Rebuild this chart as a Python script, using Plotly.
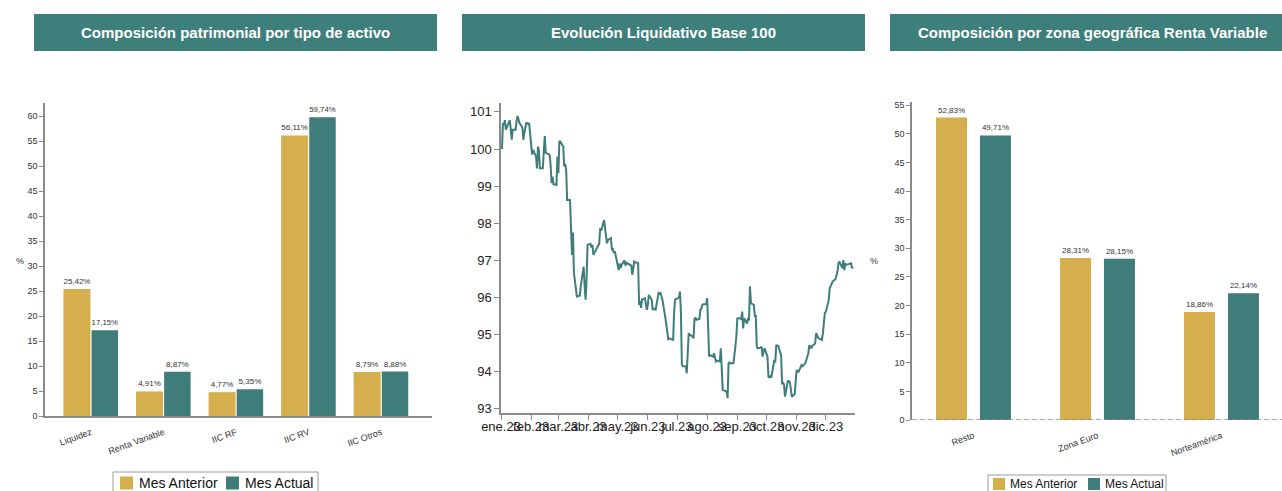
import plotly.graph_objects as go

# ---- data -------------------------------------------------------------
asset_types = ["Liquidez", "Renta Variable", "IIC RF", "IIC RV", "IIC Otros"]
asset_prev = [25.42, 4.91, 4.77, 56.11, 8.79]
asset_curr = [17.15, 8.87, 5.35, 59.74, 8.88]

zones = ["Resto", "Zona Euro", "Norteamérica"]
zone_prev = [52.83, 28.31, 18.86]
zone_curr = [49.71, 28.15, 22.14]

series_names = ["Mes Anterior", "Mes Actual"]

month_ticks = ["2023-01-01", "2023-02-01", "2023-03-01", "2023-04-01", "2023-05-01", "2023-06-01",
               "2023-07-01", "2023-08-01", "2023-09-01", "2023-10-01", "2023-11-01", "2023-12-01"]
month_labels = ["ene.23", "feb.23", "mar.23", "abr.23", "may.23", "jun.23",
                "jul.23", "ago.23", "sep.23", "oct.23", "nov.23", "dic.23"]

nav_dates = [
    "2023-01-02", "2023-01-03", "2023-01-04", "2023-01-05", "2023-01-06", "2023-01-09", "2023-01-10",
    "2023-01-11", "2023-01-12", "2023-01-13", "2023-01-16", "2023-01-17", "2023-01-18", "2023-01-19",
    "2023-01-20", "2023-01-23", "2023-01-24", "2023-01-25", "2023-01-26", "2023-01-27", "2023-01-30",
    "2023-01-31", "2023-02-01", "2023-02-02", "2023-02-03", "2023-02-06", "2023-02-07", "2023-02-08",
    "2023-02-09", "2023-02-10", "2023-02-13", "2023-02-14", "2023-02-15", "2023-02-16", "2023-02-17",
    "2023-02-20", "2023-02-21", "2023-02-22", "2023-02-23", "2023-02-24", "2023-02-27", "2023-02-28",
    "2023-03-01", "2023-03-02", "2023-03-03", "2023-03-06", "2023-03-07", "2023-03-08", "2023-03-09",
    "2023-03-10", "2023-03-13", "2023-03-14", "2023-03-15", "2023-03-16", "2023-03-17", "2023-03-20",
    "2023-03-21", "2023-03-22", "2023-03-23", "2023-03-24", "2023-03-27", "2023-03-28", "2023-03-29",
    "2023-03-30", "2023-03-31", "2023-04-03", "2023-04-04", "2023-04-05", "2023-04-06", "2023-04-11",
    "2023-04-12", "2023-04-13", "2023-04-14", "2023-04-17", "2023-04-18", "2023-04-19", "2023-04-20",
    "2023-04-21", "2023-04-24", "2023-04-25", "2023-04-26", "2023-04-27", "2023-04-28", "2023-05-02",
    "2023-05-03", "2023-05-04", "2023-05-05", "2023-05-08", "2023-05-09", "2023-05-10", "2023-05-11",
    "2023-05-12", "2023-05-15", "2023-05-16", "2023-05-17", "2023-05-18", "2023-05-19", "2023-05-22",
    "2023-05-23", "2023-05-24", "2023-05-25", "2023-05-26", "2023-05-29", "2023-05-30", "2023-05-31",
    "2023-06-01", "2023-06-02", "2023-06-05", "2023-06-06", "2023-06-07", "2023-06-08", "2023-06-09",
    "2023-06-12", "2023-06-13", "2023-06-14", "2023-06-15", "2023-06-16", "2023-06-19", "2023-06-20",
    "2023-06-21", "2023-06-22", "2023-06-23", "2023-06-26", "2023-06-27", "2023-06-28", "2023-06-29",
    "2023-06-30", "2023-07-03", "2023-07-04", "2023-07-05", "2023-07-06", "2023-07-07", "2023-07-10",
    "2023-07-11", "2023-07-12", "2023-07-13", "2023-07-14", "2023-07-17", "2023-07-18", "2023-07-19",
    "2023-07-20", "2023-07-21", "2023-07-24", "2023-07-25", "2023-07-26", "2023-07-27", "2023-07-28",
    "2023-07-31", "2023-08-01", "2023-08-02", "2023-08-03", "2023-08-04", "2023-08-07", "2023-08-08",
    "2023-08-09", "2023-08-10", "2023-08-11", "2023-08-14", "2023-08-15", "2023-08-16", "2023-08-17",
    "2023-08-18", "2023-08-21", "2023-08-22", "2023-08-23", "2023-08-24", "2023-08-25", "2023-08-28",
    "2023-08-29", "2023-08-30", "2023-08-31", "2023-09-01", "2023-09-04", "2023-09-05", "2023-09-06",
    "2023-09-07", "2023-09-08", "2023-09-11", "2023-09-12", "2023-09-13", "2023-09-14", "2023-09-15",
    "2023-09-18", "2023-09-19", "2023-09-20", "2023-09-21", "2023-09-22", "2023-09-25", "2023-09-26",
    "2023-09-27", "2023-09-28", "2023-09-29", "2023-10-02", "2023-10-03", "2023-10-04", "2023-10-05",
    "2023-10-06", "2023-10-09", "2023-10-10", "2023-10-11", "2023-10-12", "2023-10-13", "2023-10-16",
    "2023-10-17", "2023-10-18", "2023-10-19", "2023-10-20", "2023-10-23", "2023-10-24", "2023-10-25",
    "2023-10-26", "2023-10-27", "2023-10-30", "2023-10-31", "2023-11-01", "2023-11-02", "2023-11-03",
    "2023-11-06", "2023-11-07", "2023-11-08", "2023-11-09", "2023-11-10", "2023-11-13", "2023-11-14",
    "2023-11-15", "2023-11-16", "2023-11-17", "2023-11-20", "2023-11-21", "2023-11-22", "2023-11-23",
    "2023-11-24", "2023-11-27", "2023-11-28", "2023-11-29", "2023-11-30", "2023-12-01", "2023-12-04",
    "2023-12-05", "2023-12-06", "2023-12-07", "2023-12-08", "2023-12-11", "2023-12-12", "2023-12-13",
    "2023-12-14", "2023-12-15", "2023-12-18", "2023-12-19", "2023-12-20", "2023-12-21", "2023-12-22",
    "2023-12-27", "2023-12-28", "2023-12-29",
]
nav_values = [
    100.00, 100.70, 100.65, 100.78, 100.52, 100.74, 100.78,
    100.55, 100.25, 100.52, 100.52, 100.74, 100.89, 100.80,
    100.70, 100.58, 100.25, 100.43, 100.55, 100.70, 100.68,
    100.34, 100.07, 99.85, 99.98, 99.80, 99.48, 100.07,
    99.95, 99.48, 99.48, 100.16, 100.35, 99.90, 99.88,
    99.84, 99.57, 99.08, 99.26, 99.05, 99.03, 99.80,
    99.35, 100.20, 100.20, 100.07, 99.53, 99.60, 99.44,
    98.63, 98.63, 97.78, 97.15, 97.75, 96.66, 96.03,
    96.03, 96.03, 96.05, 96.30, 96.83, 96.30, 95.94,
    96.50, 97.42, 97.45, 97.35, 97.42, 97.15, 97.40,
    97.45, 97.87, 97.80, 98.09, 97.80, 97.65, 97.46,
    97.55, 97.60, 97.28, 97.30, 97.20, 97.25, 96.74,
    96.92, 96.80, 96.88, 97.00, 96.86, 96.95, 96.92,
    96.90, 96.86, 96.61, 96.85, 96.97, 96.95, 96.93,
    95.80, 95.90, 95.72, 95.95, 95.98, 95.85, 95.67,
    95.80, 96.07, 95.94, 95.67, 95.70, 95.68, 95.67,
    96.12, 96.10, 96.12, 96.05, 95.94, 95.45, 95.20,
    94.95, 94.88, 94.90, 94.88, 94.86, 95.60, 95.94,
    95.96, 96.00, 96.16, 95.60, 94.19, 94.15, 94.15,
    93.96, 94.50, 95.04, 95.00, 94.95, 94.90, 95.44,
    95.45, 95.40, 95.42, 95.67, 95.70, 95.80, 95.82,
    95.82, 95.98, 95.20, 94.41, 94.45, 94.41, 94.50,
    94.35, 94.28, 94.30, 94.28, 94.63, 94.14, 93.51,
    93.50, 93.47, 93.29, 94.23, 94.25, 94.23, 94.23,
    94.41, 94.68, 94.95, 95.44, 95.45, 95.40, 95.62,
    95.17, 95.44, 95.30, 95.45, 95.38, 96.30, 95.85,
    95.80, 95.50, 95.50, 94.68, 94.63, 94.65, 94.68,
    94.41, 94.55, 94.63, 94.41, 93.87, 93.85, 93.88,
    93.85, 94.32, 94.25, 94.72, 94.70, 94.70, 94.45,
    93.69, 93.70, 93.66, 93.33, 93.75, 93.75, 93.72,
    93.54, 93.33, 93.40, 93.75, 94.05, 94.00, 94.00,
    94.18, 94.15, 94.18, 94.20, 94.23, 94.50, 94.72,
    94.68, 94.63, 94.70, 94.76, 95.04, 94.95, 94.92,
    94.90, 94.86, 95.04, 95.30, 95.58, 95.62, 95.93,
    96.25, 96.30, 96.34, 96.43, 96.50, 96.61, 96.70,
    96.92, 96.97, 96.79, 97.01, 96.74, 96.92, 96.88,
    96.92, 96.79, 96.83,
]

# ---- styling ----------------------------------------------------------
W, H = 1282, 491
GOLD = "#d5ae4e"
TEAL = "#3e7d79"
HEADER = "#3f7f7b"
AXIS = "#8a8a8a"
FONT = "Liberation Sans, Arial, sans-serif"


def px(x):
    return x / W


def py(y):
    return 1 - y / H


def pct(values):
    return [f"{v:.2f}%".replace(".", ",") for v in values]


fig = go.Figure()
bar_label_font = dict(size=8, color="#333333", family=FONT)

# Composición patrimonial por tipo de activo
fig.add_trace(go.Bar(
    x=asset_types, y=asset_prev, name=series_names[0], marker_color=GOLD, marker_line_width=0,
    width=0.372, offset=-0.38, text=pct(asset_prev), textposition="outside",
    textfont=bar_label_font, cliponaxis=False, xaxis="x", yaxis="y", showlegend=False,
))
fig.add_trace(go.Bar(
    x=asset_types, y=asset_curr, name=series_names[1], marker_color=TEAL, marker_line_width=0,
    width=0.365, offset=0.008, text=pct(asset_curr), textposition="outside",
    textfont=bar_label_font, cliponaxis=False, xaxis="x", yaxis="y", showlegend=False,
))

# Evolución liquidativo base 100
fig.add_trace(go.Scatter(
    x=nav_dates, y=nav_values, mode="lines", line=dict(color=TEAL, width=2),
    showlegend=False, xaxis="x2", yaxis="y2",
))

# Composición por zona geográfica
fig.add_trace(go.Bar(
    x=zones, y=zone_prev, name=series_names[0], marker_color=GOLD, marker_line_width=0,
    width=0.25, offset=-0.302, text=pct(zone_prev), textposition="outside",
    textfont=bar_label_font, cliponaxis=False, xaxis="x3", yaxis="y3", showlegend=False,
))
fig.add_trace(go.Bar(
    x=zones, y=zone_curr, name=series_names[1], marker_color=TEAL, marker_line_width=0,
    width=0.25, offset=0.052, text=pct(zone_curr), textposition="outside",
    textfont=bar_label_font, cliponaxis=False, xaxis="x3", yaxis="y3", showlegend=False,
))

small_tick = dict(size=9, color="#333333", family=FONT)
big_tick = dict(size=13, color="#222222", family=FONT)
axis_common = dict(showgrid=False, zeroline=False, showline=True, linecolor=AXIS,
                   linewidth=1.5, automargin=False)

fig.update_layout(
    width=W, height=H, margin=dict(l=0, r=0, t=0, b=0, autoexpand=False),
    paper_bgcolor="white", plot_bgcolor="white",
    font=dict(family=FONT, color="#222222"),
    barmode="group", showlegend=False,
    xaxis=dict(domain=[px(45), px(432)], range=[-0.634, 4.70], anchor="y",
               tickangle=-20, tickfont=small_tick, ticks="", ticklabelstandoff=6, **axis_common),
    yaxis=dict(domain=[py(416), py(103)], range=[0, 62.6], anchor="x", dtick=5,
               ticks="outside", ticklen=4, tickcolor=AXIS, tickfont=small_tick, **axis_common),
    xaxis2=dict(domain=[px(501), px(855)], type="date", range=["2023-01-01", "2023-12-31"],
                anchor="y2", tickvals=month_ticks, ticktext=month_labels, tickangle=0,
                ticks="outside", ticklen=5, tickcolor=AXIS, tickfont=big_tick,
                ticklabelstandoff=-4, **axis_common),
    yaxis2=dict(domain=[py(413), py(103)], range=[92.89, 101.24], anchor="x2", dtick=1,
                ticks="outside", ticklen=5, tickcolor=AXIS, tickfont=big_tick, **axis_common),
    xaxis3=dict(domain=[px(912), 1.0], range=[-0.496, 2.488], anchor="y3",
                tickangle=-20, tickfont=small_tick, ticks="", ticklabelstandoff=8,
                showgrid=False, zeroline=False, showline=False, automargin=False),
    yaxis3=dict(domain=[py(420), py(102)], range=[0, 55.55], anchor="x3", dtick=5,
                ticks="outside", ticklen=4, tickcolor=AXIS, tickfont=small_tick, **axis_common),
)

# dashed baseline of the geographic chart
fig.add_shape(type="line", xref="x3", yref="y3", x0=-0.496, x1=2.488, y0=0, y1=0,
              line=dict(color=AXIS, width=1.5, dash="5px,3px"), layer="above")

# section headers
headers = [
    (34, 437, 235.5, "Composición patrimonial por tipo de activo"),
    (462, 865, 663.5, "Evolución Liquidativo Base 100"),
    (890, 1290, 1092, "Composición por zona geográfica Renta Variable"),
]
for x0, x1, xc, title in headers:
    fig.add_shape(type="rect", xref="paper", yref="paper",
                  x0=px(x0), x1=px(x1), y0=py(51), y1=py(14),
                  fillcolor=HEADER, line=dict(width=0), layer="below")
    fig.add_annotation(xref="paper", yref="paper", x=px(xc), y=py(33),
                       text=f"<b>{title}</b>", showarrow=False,
                       font=dict(size=15, color="white", family=FONT),
                       xanchor="center", yanchor="middle")

# axis unit labels
for x in (14, 880):
    fig.add_annotation(xref="paper", yref="paper", x=px(x), y=py(261), text="%",
                       showarrow=False, font=dict(size=9, color="#333333", family=FONT))

# series keys below the two bar charts
# (box left, box right, top, swatch centre y, swatch size, font size, [swatch x], [text x])
keys = [
    (113, 318, 472, 483, 13, 14, [120, 226], [137, 243]),
    (988, 1166, 475, 484, 12, 12, [993, 1088], [1008, 1103]),
]
for bx0, bx1, top, cy, sw, fs, swx, tx in keys:
    fig.add_shape(type="rect", xref="paper", yref="paper",
                  x0=px(bx0), x1=px(bx1), y0=py(top + 30), y1=py(top),
                  fillcolor="white", line=dict(color="#9a9a9a", width=1))
    for name, color, sx, txx in zip(series_names, (GOLD, TEAL), swx, tx):
        fig.add_shape(type="rect", xref="paper", yref="paper",
                      x0=px(sx), x1=px(sx + sw), y0=py(cy + sw / 2), y1=py(cy - sw / 2),
                      fillcolor=color, line=dict(width=0))
        fig.add_annotation(xref="paper", yref="paper", x=px(txx), y=py(cy), text=name,
                           showarrow=False, xanchor="left", yanchor="middle",
                           font=dict(size=fs, color="#111111", family=FONT))

fig.write_html("out.html")
